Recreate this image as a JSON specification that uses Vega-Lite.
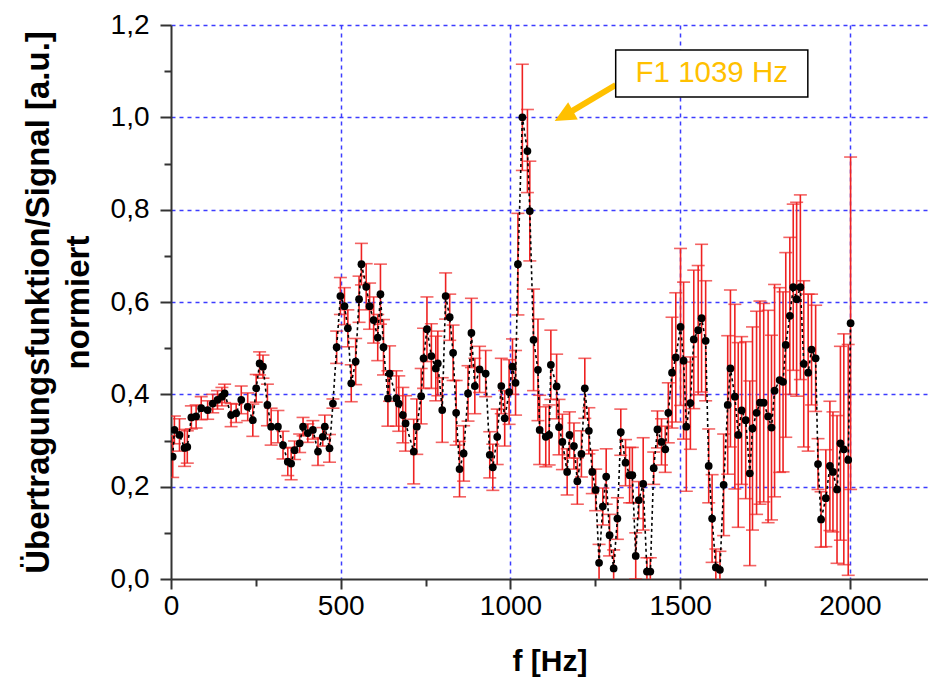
{
  "$schema": "https://vega.github.io/schema/vega-lite/v6.json",
  "width": 757,
  "height": 554,
  "autosize": {"type": "none"},
  "padding": {"left": 171, "top": 25, "right": 0, "bottom": 107},
  "background": "white",
  "config": {"view": {"stroke": null}, "font": "Liberation Sans"},
  "datasets": {
    "meas": [
      {"f":5,"v":0.265,"e":0.045},{"f":10,"v":0.323,"e":0.03},{"f":25,"v":0.312,"e":0.035},{"f":40,"v":0.284,"e":0.04},
      {"f":48,"v":0.286,"e":0.035},{"f":60,"v":0.35,"e":0.025},{"f":74,"v":0.352,"e":0.025},{"f":89,"v":0.37,"e":0.025},
      {"f":108,"v":0.366,"e":0.02},{"f":123,"v":0.38,"e":0.02},{"f":137,"v":0.388,"e":0.02},{"f":150,"v":0.395,"e":0.02},
      {"f":158,"v":0.402,"e":0.02},{"f":177,"v":0.355,"e":0.025},{"f":192,"v":0.359,"e":0.02},{"f":207,"v":0.388,"e":0.03},
      {"f":226,"v":0.373,"e":0.03},{"f":241,"v":0.344,"e":0.035},{"f":251,"v":0.413,"e":0.03},{"f":261,"v":0.467,"e":0.025},
      {"f":271,"v":0.46,"e":0.025},{"f":284,"v":0.377,"e":0.045},{"f":295,"v":0.33,"e":0.04},{"f":315,"v":0.33,"e":0.035},
      {"f":330,"v":0.29,"e":0.03},{"f":344,"v":0.254,"e":0.03},{"f":354,"v":0.25,"e":0.035},{"f":364,"v":0.279,"e":0.02},
      {"f":379,"v":0.294,"e":0.02},{"f":389,"v":0.33,"e":0.02},{"f":403,"v":0.316,"e":0.02},{"f":418,"v":0.323,"e":0.02},
      {"f":433,"v":0.276,"e":0.03},{"f":447,"v":0.308,"e":0.02},{"f":453,"v":0.33,"e":0.025},{"f":467,"v":0.283,"e":0.03},
      {"f":477,"v":0.38,"e":0.01},{"f":488,"v":0.502,"e":0.035},{"f":499,"v":0.613,"e":0.04},{"f":511,"v":0.591,"e":0.04},
      {"f":521,"v":0.543,"e":0.04},{"f":531,"v":0.424,"e":0.04},{"f":544,"v":0.471,"e":0.05},{"f":554,"v":0.606,"e":0.05},
      {"f":561,"v":0.682,"e":0.045},{"f":575,"v":0.633,"e":0.05},{"f":585,"v":0.591,"e":0.05},{"f":597,"v":0.561,"e":0.05},
      {"f":609,"v":0.523,"e":0.05},{"f":617,"v":0.617,"e":0.065},{"f":626,"v":0.502,"e":0.06},{"f":639,"v":0.391,"e":0.06},
      {"f":644,"v":0.445,"e":0.06},{"f":664,"v":0.391,"e":0.06},{"f":671,"v":0.38,"e":0.06},{"f":683,"v":0.355,"e":0.06},
      {"f":691,"v":0.337,"e":0.06},{"f":715,"v":0.276,"e":0.07},{"f":724,"v":0.33,"e":0.06},{"f":737,"v":0.396,"e":0.06},
      {"f":744,"v":0.478,"e":0.065},{"f":754,"v":0.541,"e":0.07},{"f":767,"v":0.483,"e":0.07},{"f":780,"v":0.456,"e":0.07},
      {"f":786,"v":0.467,"e":0.07},{"f":799,"v":0.366,"e":0.07},{"f":809,"v":0.613,"e":0.05},{"f":821,"v":0.567,"e":0.05},
      {"f":831,"v":0.49,"e":0.06},{"f":840,"v":0.36,"e":0.07},{"f":850,"v":0.238,"e":0.06},{"f":862,"v":0.272,"e":0.06},
      {"f":875,"v":0.402,"e":0.06},{"f":885,"v":0.533,"e":0.075},{"f":895,"v":0.418,"e":0.06},{"f":909,"v":0.454,"e":0.05},
      {"f":927,"v":0.445,"e":0.05},{"f":939,"v":0.269,"e":0.05},{"f":948,"v":0.242,"e":0.05},{"f":961,"v":0.308,"e":0.06},
      {"f":973,"v":0.418,"e":0.06},{"f":983,"v":0.348,"e":0.06},{"f":996,"v":0.405,"e":0.07},{"f":1006,"v":0.46,"e":0.06},
      {"f":1015,"v":0.425,"e":0.07},{"f":1022,"v":0.682,"e":0.11},{"f":1035,"v":1.0,"e":0.115},{"f":1050,"v":0.927,"e":0.09},
      {"f":1057,"v":0.797,"e":0.108},{"f":1068,"v":0.518,"e":0.11},{"f":1081,"v":0.453,"e":0.11},{"f":1086,"v":0.323,"e":0.075},
      {"f":1104,"v":0.308,"e":0.065},{"f":1114,"v":0.312,"e":0.065},{"f":1119,"v":0.464,"e":0.075},{"f":1136,"v":0.417,"e":0.07},
      {"f":1143,"v":0.329,"e":0.06},{"f":1153,"v":0.297,"e":0.06},{"f":1167,"v":0.232,"e":0.05},{"f":1174,"v":0.312,"e":0.05},
      {"f":1187,"v":0.288,"e":0.05},{"f":1197,"v":0.212,"e":0.05},{"f":1209,"v":0.271,"e":0.05},{"f":1219,"v":0.413,"e":0.065},
      {"f":1231,"v":0.321,"e":0.05},{"f":1241,"v":0.232,"e":0.047},{"f":1251,"v":0.193,"e":0.045},{"f":1261,"v":0.035,"e":0.04},
      {"f":1272,"v":0.157,"e":0.04},{"f":1282,"v":0.222,"e":0.06},{"f":1292,"v":0.095,"e":0.045},{"f":1304,"v":0.023,"e":0.04},
      {"f":1315,"v":0.131,"e":0.045},{"f":1325,"v":0.318,"e":0.05},{"f":1339,"v":0.252,"e":0.05},{"f":1351,"v":0.225,"e":0.06},
      {"f":1359,"v":0.225,"e":0.06},{"f":1369,"v":0.05,"e":0.05},{"f":1378,"v":0.171,"e":0.04},{"f":1391,"v":0.206,"e":0.1},
      {"f":1402,"v":0.016,"e":0.03},{"f":1412,"v":0.016,"e":0.03},{"f":1422,"v":0.24,"e":0.035},{"f":1433,"v":0.324,"e":0.04},
      {"f":1445,"v":0.297,"e":0.05},{"f":1456,"v":0.281,"e":0.05},{"f":1465,"v":0.36,"e":0.065},{"f":1476,"v":0.447,"e":0.12},
      {"f":1487,"v":0.48,"e":0.14},{"f":1501,"v":0.546,"e":0.17},{"f":1510,"v":0.473,"e":0.17},{"f":1518,"v":0.33,"e":0.14},
      {"f":1530,"v":0.381,"e":0.1},{"f":1540,"v":0.519,"e":0.15},{"f":1553,"v":0.539,"e":0.14},{"f":1563,"v":0.565,"e":0.16},
      {"f":1575,"v":0.516,"e":0.13},{"f":1584,"v":0.245,"e":0.08},{"f":1594,"v":0.131,"e":0.095},{"f":1605,"v":0.025,"e":0.04},
      {"f":1617,"v":0.02,"e":0.04},{"f":1628,"v":0.204,"e":0.11},{"f":1640,"v":0.377,"e":0.15},{"f":1648,"v":0.456,"e":0.17},
      {"f":1661,"v":0.395,"e":0.2},{"f":1671,"v":0.312,"e":0.2},{"f":1681,"v":0.365,"e":0.16},{"f":1693,"v":0.344,"e":0.17},
      {"f":1705,"v":0.229,"e":0.2},{"f":1713,"v":0.326,"e":0.22},{"f":1725,"v":0.36,"e":0.22},{"f":1735,"v":0.382,"e":0.22},
      {"f":1746,"v":0.382,"e":0.215},{"f":1759,"v":0.352,"e":0.23},{"f":1769,"v":0.328,"e":0.2},{"f":1778,"v":0.408,"e":0.23},
      {"f":1793,"v":0.431,"e":0.2},{"f":1803,"v":0.427,"e":0.195},{"f":1811,"v":0.507,"e":0.2},{"f":1823,"v":0.57,"e":0.17},
      {"f":1833,"v":0.632,"e":0.18},{"f":1843,"v":0.606,"e":0.21},{"f":1854,"v":0.632,"e":0.2},{"f":1864,"v":0.466,"e":0.18},
      {"f":1877,"v":0.447,"e":0.17},{"f":1887,"v":0.497,"e":0.12},{"f":1899,"v":0.478,"e":0.115},{"f":1906,"v":0.249,"e":0.055},
      {"f":1915,"v":0.129,"e":0.06},{"f":1929,"v":0.175,"e":0.105},{"f":1941,"v":0.245,"e":0.14},{"f":1950,"v":0.232,"e":0.13},
      {"f":1962,"v":0.194,"e":0.16},{"f":1972,"v":0.294,"e":0.21},{"f":1982,"v":0.281,"e":0.25},{"f":1995,"v":0.258,"e":0.25},
      {"f":2002,"v":0.554,"e":0.36}
    ],
    "arrow": [{"f": 1310, "v": 1.07, "f2": 1158.6, "v2": 1.0037}],
    "head": [{"f": 1158.6, "v": 1.0037}],
    "box": [{"f": 1310, "v": 1.146, "f2": 1876, "v2": 1.044}],
    "lbl": [{"f": 1593, "v": 1.095, "label": "F1 1039 Hz"}]
  },
  "encoding": {
    "x": {
      "field": "f", "type": "quantitative",
      "scale": {"domain": [0, 2230], "nice": false, "zero": false},
      "axis": {
        "title": "f [Hz]", "titleFontSize": 30, "titleFontWeight": "bold", "titleColor": "black", "titlePadding": 26,
        "values": [0, 250, 500, 750, 1000, 1250, 1500, 1750, 2000],
        "labelExpr": "datum.value % 500 === 0 ? format(datum.value, 'd') : ''",
        "labelFontSize": 28, "labelColor": "black", "labelPadding": 3, "labelFlush": false, "labelOverlap": false, "labelBound": false,
        "tickSize": {"condition": {"test": "datum.value % 500 === 0", "value": 10}, "value": 7},
        "tickColor": "#333333", "tickWidth": 2, "domainColor": "#333333", "domainWidth": 2,
        "grid": true, "gridColor": "#3c3cff", "gridDash": [4, 4], "gridWidth": 1.5,
        "gridOpacity": {"condition": {"test": "datum.value % 500 === 0 && datum.value > 0", "value": 1}, "value": 0}
      }
    },
    "y": {
      "field": "v", "type": "quantitative",
      "scale": {"domain": [0, 1.2], "nice": false},
      "axis": {
        "title": ["Übertragungsfunktion/Signal [a.u.]", "normiert"], "titleFontSize": 33, "titleFontWeight": "bold", "titleColor": "black",
        "titleLineHeight": 40, "titlePadding": 15,
        "values": [0, 0.1, 0.2, 0.3, 0.4, 0.5, 0.6, 0.7, 0.8, 0.9, 1.0, 1.1, 1.2],
        "labelExpr": "abs(datum.value*5 - round(datum.value*5)) < 0.001 ? replace(format(datum.value, '.1f'), '.', ',') : ''",
        "labelFontSize": 28, "labelColor": "black", "labelPadding": 11, "labelOverlap": false, "labelBound": false, "labelFlush": false,
        "tickSize": {"condition": {"test": "abs(datum.value*5 - round(datum.value*5)) < 0.001", "value": 11}, "value": 7},
        "tickColor": "#333333", "tickWidth": 2, "domainColor": "#333333", "domainWidth": 2,
        "grid": true, "gridColor": "#3c3cff", "gridDash": [4, 4], "gridWidth": 1.5,
        "gridOpacity": {"condition": {"test": "abs(datum.value*5 - round(datum.value*5)) < 0.001 && datum.value > 0.01", "value": 1}, "value": 0}
      }
    }
  },
  "layer": [
    {
      "data": {"name": "meas"},
      "mark": {"type": "errorbar", "ticks": {"size": 13, "thickness": 1.6}, "color": "#ee2222", "thickness": 1.6, "clip": true},
      "encoding": {"yError": {"field": "e"}}
    },
    {
      "data": {"name": "meas"},
      "mark": {"type": "line", "color": "black", "strokeWidth": 1.6, "strokeDash": [3, 3], "clip": true}
    },
    {
      "data": {"name": "meas"},
      "mark": {"type": "circle", "color": "black", "opacity": 1, "size": 60, "clip": true}
    },
    {
      "data": {"name": "arrow"},
      "mark": {"type": "rule", "color": "#FFC000", "strokeWidth": 6, "strokeCap": "butt"},
      "encoding": {"x2": {"field": "f2"}, "y2": {"field": "v2"}}
    },
    {
      "data": {"name": "head"},
      "mark": {"type": "point", "shape": "M0,-1 L0.9,0.9 L-0.9,0.9 Z", "size": 484, "angle": 241, "filled": true, "color": "#FFC000", "opacity": 1}
    },
    {
      "data": {"name": "box"},
      "mark": {"type": "rect", "fill": "white", "stroke": "black", "strokeWidth": 1.5},
      "encoding": {"x2": {"field": "f2"}, "y2": {"field": "v2"}}
    },
    {
      "data": {"name": "lbl"},
      "mark": {"type": "text", "color": "#FFC000", "fontSize": 29.5, "font": "Liberation Sans", "align": "center", "baseline": "middle"},
      "encoding": {"text": {"field": "label"}}
    }
  ]
}
